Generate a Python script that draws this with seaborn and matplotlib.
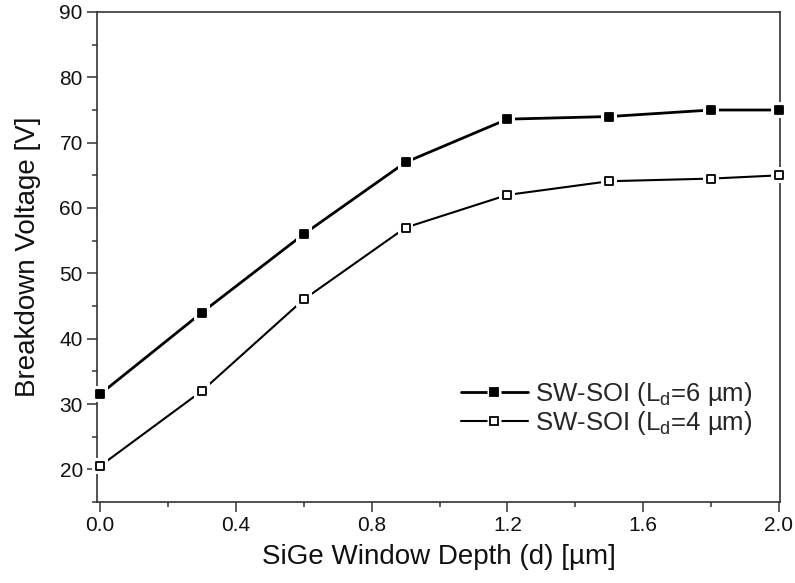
import matplotlib
matplotlib.use("Agg")
import matplotlib.pyplot as plt
from matplotlib.lines import Line2D
from matplotlib.ticker import MultipleLocator
import numpy as np
import pandas as pd
import seaborn as sns

# SiGe window depth d [um]
depth = [0.0, 0.3, 0.6, 0.9, 1.2, 1.5, 1.8, 2.0]
# Breakdown voltage [V] for the two drift lengths
bv_ld6 = [31.5, 44.0, 56.0, 67.0, 73.6, 74.0, 75.0, 75.0]
bv_ld4 = [20.5, 32.0, 46.0, 57.0, 62.0, 64.1, 64.5, 65.0]

labels = ["SW-SOI (L$_\\mathregular{d}$=6 µm)", "SW-SOI (L$_\\mathregular{d}$=4 µm)"]
xticks = [0.0, 0.4, 0.8, 1.2, 1.6, 2.0]
xtick_labels = ["0.0", "0.4", "0.8", "1.2", "1.6", "2.0"]

sns.set_theme(style="ticks")
plt.rcParams["font.family"] = ["Liberation Sans", "DejaVu Sans"]
plt.rcParams["mathtext.fontset"] = "custom"
plt.rcParams["mathtext.rm"] = "Liberation Sans"

fig = plt.figure(figsize=(7.95, 5.83), dpi=100)
ax = fig.add_axes([97 / 795, 1 - 502 / 583, (780 - 97) / 795, (502 - 12) / 583])

series = [
    (bv_ld6, labels[0], 2.0, "black"),
    (bv_ld4, labels[1], 1.5, "white"),
]

handles = []
for values, label, lw, face in series:
    df = pd.DataFrame({"d": depth, "bv": values})
    sns.lineplot(data=df, x="d", y="bv", ax=ax, color="black", lw=lw,
                 legend=False, zorder=2)
    # white halo under each marker so the line stops just short of it
    sns.scatterplot(data=df, x="d", y="bv", ax=ax, marker="s", s=130,
                    color="white", edgecolor="none", legend=False, zorder=3,
                    clip_on=False)
    sns.scatterplot(data=df, x="d", y="bv", ax=ax, marker="s", s=38,
                    color=face, edgecolor="black", linewidth=1.3,
                    legend=False, zorder=4, clip_on=False)
    handles.append((
        Line2D([], [], color="black", lw=lw),
        Line2D([], [], ls="none", marker="s", ms=10, mfc="white", mec="none"),
        Line2D([], [], ls="none", marker="s", ms=6, mfc=face, mec="black",
               mew=1.3),
    ))

ax.set_xlim(-0.009, 2.003)
ax.set_ylim(15, 90)
ax.xaxis.set_minor_locator(MultipleLocator(0.2))
ax.yaxis.set_major_locator(MultipleLocator(10))
ax.yaxis.set_minor_locator(MultipleLocator(5))
ax.set_xticks(xticks)
ax.set_xticklabels(xtick_labels)

for side in ["left", "right", "top", "bottom"]:
    ax.spines[side].set_visible(True)
    ax.spines[side].set_color("#333333")
    ax.spines[side].set_linewidth(1.2)

ax.tick_params(axis="both", which="major", direction="out", length=7.2,
               width=1.1, color="#333333", labelsize=15, pad=3,
               labelcolor="#111111")
ax.tick_params(axis="both", which="minor", direction="out", length=3.8,
               width=1.1, color="#333333")

ax.set_xlabel("SiGe Window Depth (d) [µm]", fontsize=20, labelpad=6,
              color="#111111")
ax.set_ylabel("Breakdown Voltage [V]", fontsize=20, labelpad=13,
              color="#111111")

leg = ax.legend(handles, labels, loc="lower right", frameon=False,
                fontsize=18.5, handlelength=2.6, handletextpad=0.3,
                labelspacing=0.05, bbox_to_anchor=(0.975, 0.112),
                borderaxespad=0)

fig.savefig("out.png", dpi=100, facecolor="white")
